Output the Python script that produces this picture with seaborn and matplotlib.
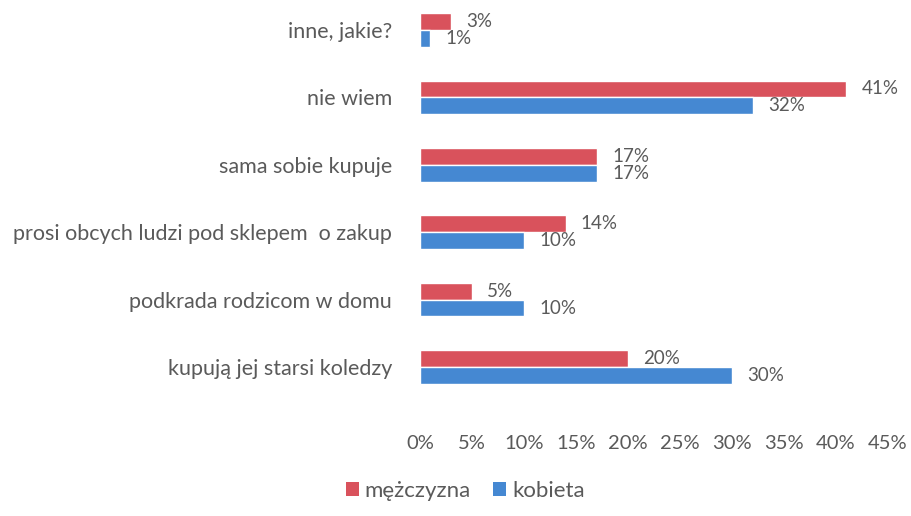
import matplotlib
matplotlib.use("Agg")
import matplotlib.pyplot as plt
import pandas as pd
import seaborn as sns
from matplotlib.patches import Patch

categories = [
    "inne, jakie?",
    "nie wiem",
    "sama sobie kupuje",
    "prosi obcych ludzi pod sklepem  o zakup",
    "podkrada rodzicom w domu",
    "kupują jej starsi koledzy",
]
men = [3, 41, 17, 14, 5, 20]
women = [1, 32, 17, 10, 10, 30]
series = ["mężczyzna", "kobieta"]
x_ticks = [0, 5, 10, 15, 20, 25, 30, 35, 40, 45]

df = pd.DataFrame({
    "kategoria": categories * 2,
    "plec": [series[0]] * len(categories) + [series[1]] * len(categories),
    "wartosc": [v / 100 for v in men + women],
})

sns.set_style("white")
plt.rcParams["font.family"] = ["Lato", "DejaVu Sans"]
text_col = "#5a5a5a"
colors = {"mężczyzna": "#d9525c", "kobieta": "#4588d2"}

fig = plt.figure(figsize=(9.12, 5.16), dpi=100)
ax = fig.add_axes([420 / 912, 1 - 400 / 516, 468 / 912, 400 / 516])

sns.barplot(data=df, y="kategoria", x="wartosc", hue="plec", order=categories,
            hue_order=series, palette=colors, width=0.5, orient="h",
            saturation=1, ax=ax, legend=False)

for cont in ax.containers:
    ax.bar_label(cont, labels=[f"{round(b.get_width() * 100)}%" for b in cont],
                 padding=11, color=text_col, fontsize=13.5)

ax.set_xlim(0, 0.45)
ax.set_ylim(5.49, -0.445)
ax.set_xticks([t / 100 for t in x_ticks])
ax.set_xticklabels([f"{t}%" for t in x_ticks])
ax.set_xlabel("")
ax.set_ylabel("")
ax.tick_params(axis="x", length=0, pad=25, labelsize=14.5, labelcolor=text_col)
ax.tick_params(axis="y", length=0, pad=20, labelsize=15.5, labelcolor=text_col)
sns.despine(ax=ax, left=True, bottom=True)

handles = [Patch(facecolor=colors[s], edgecolor="none") for s in series]
fig.legend(handles, series, loc="lower center", bbox_to_anchor=(0.51, -0.01),
           ncol=2, frameon=False, fontsize=16, labelcolor=text_col,
           handlelength=0.6, handleheight=0.6, handletextpad=0.25, columnspacing=1.0)

fig.savefig("out.png", dpi=100)
